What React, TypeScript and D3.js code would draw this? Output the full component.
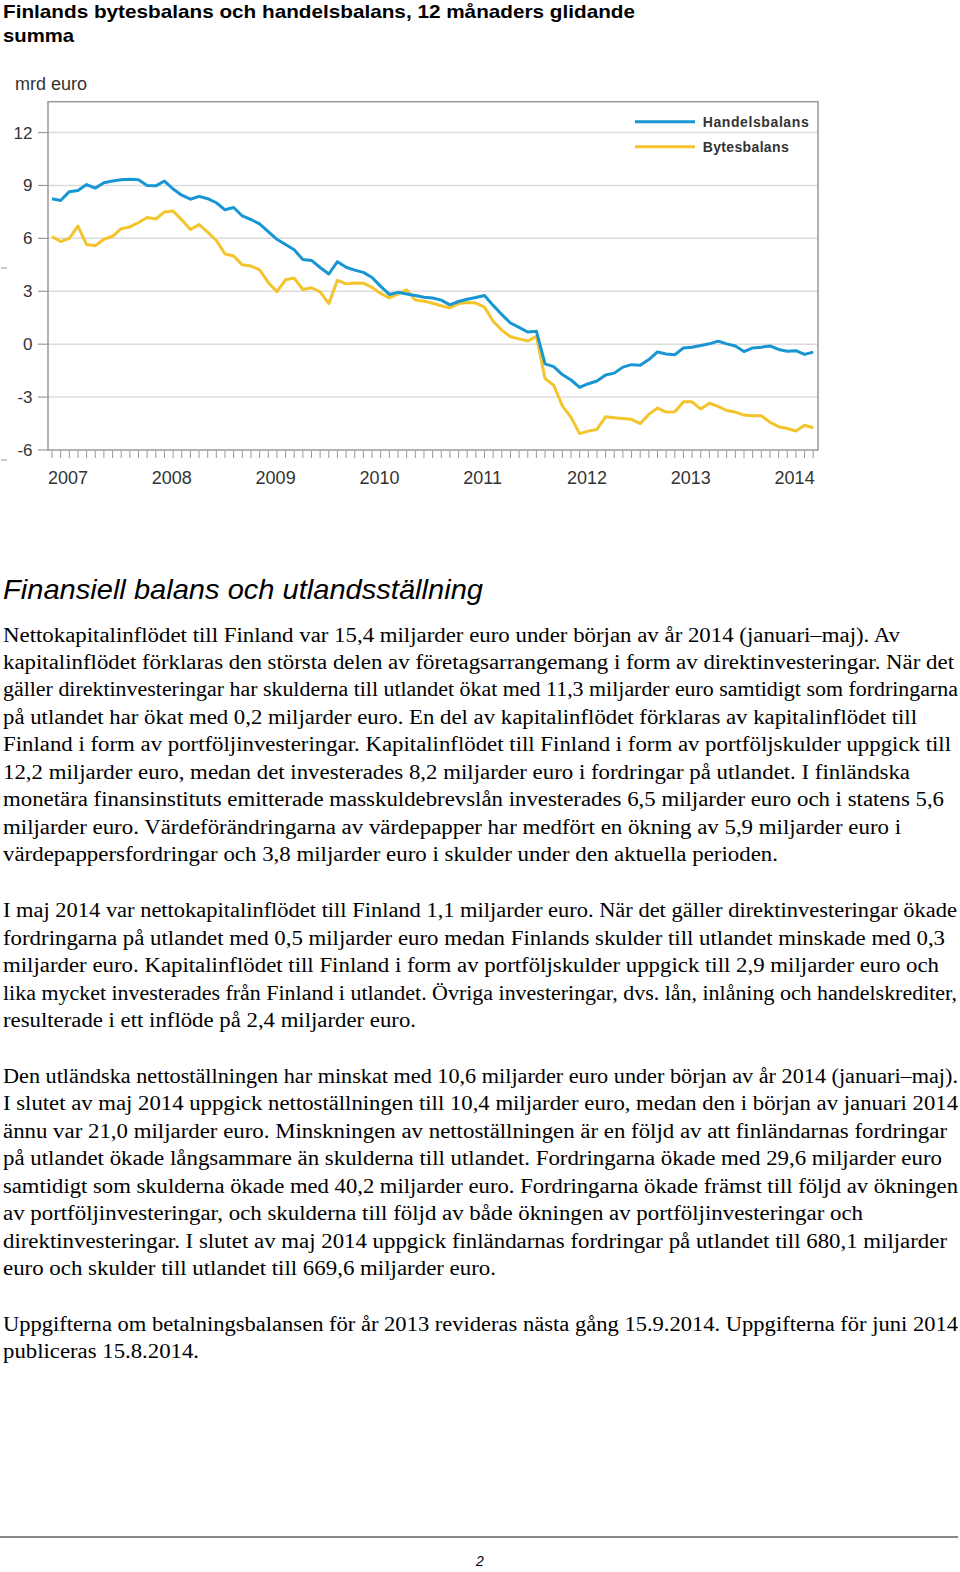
import React from "react";
import * as d3 from "d3";

const handelsbalans = [8.25, 8.15, 8.65, 8.72, 9.05, 8.85, 9.15, 9.25, 9.33, 9.35, 9.32, 9.0, 8.98, 9.25,
  8.8, 8.45, 8.22, 8.38, 8.25, 8.02, 7.62, 7.75, 7.27, 7.07, 6.82, 6.38, 5.95, 5.65, 5.35, 4.8, 4.75,
  4.35, 3.98, 4.68, 4.36, 4.2, 4.07, 3.78, 3.28, 2.82, 2.94, 2.85, 2.76, 2.66, 2.62, 2.5,
  2.23, 2.42, 2.55, 2.65, 2.76, 2.2, 1.68, 1.2, 0.95, 0.69, 0.74, -1.12, -1.27, -1.72, -2.03, -2.45,
  -2.24, -2.09, -1.75, -1.64, -1.3, -1.16, -1.2, -0.87, -0.44, -0.56, -0.6, -0.21, -0.17, -0.07, 0.02,
  0.17, 0.02, -0.1, -0.42, -0.21, -0.17, -0.1, -0.3, -0.4, -0.37, -0.58, -0.45];

const bytesbalans = [6.1, 5.82, 6.0, 6.7, 5.65, 5.58, 5.95, 6.12, 6.55, 6.65, 6.9, 7.18, 7.1, 7.5,
  7.55, 7.05, 6.5, 6.78, 6.35, 5.88, 5.12, 5.0, 4.5, 4.43, 4.22, 3.5, 2.98, 3.65, 3.75, 3.1, 3.2,
  2.97, 2.3, 3.62, 3.42, 3.47, 3.46, 3.22, 2.88, 2.62, 2.85, 3.08, 2.5, 2.44, 2.32, 2.18,
  2.05, 2.3, 2.37, 2.33, 2.1, 1.3, 0.8, 0.42, 0.3, 0.18, 0.45, -1.95, -2.33, -3.5, -4.15, -5.07,
  -4.93, -4.83, -4.12, -4.17, -4.21, -4.26, -4.5, -3.98, -3.62, -3.85, -3.83, -3.27, -3.27, -3.68, -3.35,
  -3.53, -3.76, -3.85, -4.02, -4.06, -4.06, -4.42, -4.68, -4.78, -4.92, -4.6, -4.74];

const years = ["2007", "2008", "2009", "2010", "2011", "2012", "2013", "2014"];
const yTicks = [12, 9, 6, 3, 0, -3, -6];
const seriesNames = ["Handelsbalans", "Bytesbalans"];
const seriesColors = ["#1896d3", "#f4c42c"];

const titleLines = ["Finlands bytesbalans och handelsbalans, 12 månaders glidande", "summa"];
const heading = "Finansiell balans och utlandsställning";

const paragraphs: { lines: string[]; widths: number[] }[] = [
  {
    lines: [
      "Nettokapitalinflödet till Finland var 15,4 miljarder euro under början av år 2014 (januari–maj). Av",
      "kapitalinflödet förklaras den största delen av företagsarrangemang i form av direktinvesteringar. När det",
      "gäller direktinvesteringar har skulderna till utlandet ökat med 11,3 miljarder euro samtidigt som fordringarna",
      "på utlandet har ökat med 0,2 miljarder euro. En del av kapitalinflödet förklaras av kapitalinflödet till",
      "Finland i form av portföljinvesteringar. Kapitalinflödet till Finland i form av portföljskulder uppgick till",
      "12,2 miljarder euro, medan det investerades 8,2 miljarder euro i fordringar på utlandet. I finländska",
      "monetära finansinstituts emitterade masskuldebrevslån investerades 6,5 miljarder euro och i statens 5,6",
      "miljarder euro. Värdeförändringarna av värdepapper har medfört en ökning av 5,9 miljarder euro i",
      "värdepappersfordringar och 3,8 miljarder euro i skulder under den aktuella perioden.",
    ],
    widths: [897, 951, 955, 914, 948, 907, 941, 898, 775],
  },
  {
    lines: [
      "I maj 2014 var nettokapitalinflödet till Finland 1,1 miljarder euro. När det gäller direktinvesteringar ökade",
      "fordringarna på utlandet med 0,5 miljarder euro medan Finlands skulder till utlandet minskade med 0,3",
      "miljarder euro. Kapitalinflödet till Finland i form av portföljskulder uppgick till 2,9 miljarder euro och",
      "lika mycket investerades från Finland i utlandet. Övriga investeringar, dvs. lån, inlåning och handelskrediter,",
      "resulterade i ett inflöde på 2,4 miljarder euro.",
    ],
    widths: [954, 942, 936, 954, 413],
  },
  {
    lines: [
      "Den utländska nettoställningen har minskat med 10,6 miljarder euro under början av år 2014 (januari–maj).",
      "I slutet av maj 2014 uppgick nettoställningen till 10,4 miljarder euro, medan den i början av januari 2014",
      "ännu var 21,0 miljarder euro. Minskningen av nettoställningen är en följd av att finländarnas fordringar",
      "på utlandet ökade långsammare än skulderna till utlandet. Fordringarna ökade med 29,6 miljarder euro",
      "samtidigt som skulderna ökade med 40,2 miljarder euro. Fordringarna ökade främst till följd av ökningen",
      "av portföljinvesteringar, och skulderna till följd av både ökningen av portföljinvesteringar och",
      "direktinvesteringar. I slutet av maj 2014 uppgick finländarnas fordringar på utlandet till 680,1 miljarder",
      "euro och skulder till utlandet till 669,6 miljarder euro.",
    ],
    widths: [955, 955, 944, 939, 955, 860, 944, 493],
  },
  {
    lines: [
      "Uppgifterna om betalningsbalansen för år 2013 revideras nästa gång 15.9.2014. Uppgifterna för juni 2014",
      "publiceras 15.8.2014.",
    ],
    widths: [955, 196],
  },
];
const paraStarts = [641.5, 917.4, 1082.8, 1330.5];
const LINE_H = 27.45;

export default function App() {
  const left = 48, right = 818, top = 101.7, bottom = 450;
  const n = handelsbalans.length;
  const x = d3.scaleLinear().domain([0, n - 1]).range([52, 813.2]);
  const y = d3.scaleLinear().domain([-6, 13.75]).range([bottom, top]);
  const line = d3.line<number>().x((_, i) => x(i)).y((d) => y(d));
  const sans = "'Liberation Sans', Arial, sans-serif";
  const serif = "'Liberation Serif', 'Times New Roman', serif";

  return (
    <svg width={960} height={1572} style={{ position: "absolute", left: 0, top: 0, background: "#fff" }}>
      <rect x={0} y={0} width={960} height={1572} fill="#fff" />
      {/* Title */}
      <text x={3} y={18} fontFamily={sans} fontWeight="bold" fontSize={19} textLength={632} lengthAdjust="spacingAndGlyphs">{titleLines[0]}</text>
      <text x={3} y={42} fontFamily={sans} fontWeight="bold" fontSize={19} textLength={71} lengthAdjust="spacingAndGlyphs">{titleLines[1]}</text>

      {/* Chart */}
      <text x={15} y={90} fontFamily={sans} fontSize={18} fill="#333">mrd euro</text>
      {yTicks.map((t) => (
        <g key={t}>
          {t > -6 && <line x1={left} x2={right} y1={y(t)} y2={y(t)} stroke="#dcdcdc" strokeWidth={1.5} />}
          <line x1={38} x2={left} y1={y(t)} y2={y(t)} stroke="#999" strokeWidth={1.2} />
          <text x={32.5} y={y(t) + 6} textAnchor="end" fontFamily={sans} fontSize={17} fill="#333">{t}</text>
        </g>
      ))}
      <rect x={left} y={top} width={right - left} height={bottom - top} fill="none" stroke="#999" strokeWidth={1.5} />
      {d3.range(n).map((i) => (
        <line key={i} x1={x(i)} x2={x(i)} y1={bottom + 1} y2={bottom + 8} stroke="#999" strokeWidth={1} />
      ))}
      {years.map((yr, k) => (
        <text key={yr} x={x(k * 12) - 4} y={484} fontFamily={sans} fontSize={18} fill="#333">{yr}</text>
      ))}
      <path d={line(bytesbalans) || ""} fill="none" stroke={seriesColors[1]} strokeWidth={3} strokeLinejoin="round" />
      <path d={line(handelsbalans) || ""} fill="none" stroke={seriesColors[0]} strokeWidth={3} strokeLinejoin="round" />
      {/* legend */}
      {seriesNames.map((s, k) => (
        <g key={s}>
          <line x1={635} x2={695} y1={121.7 + k * 25} y2={121.7 + k * 25} stroke={seriesColors[k]} strokeWidth={3} />
          <text x={702.7} y={126.5 + k * 25} fontFamily={sans} fontWeight="bold" fontSize={14} fill="#333"
            textLength={k === 0 ? 106 : 86} lengthAdjust="spacing">{s}</text>
        </g>
      ))}
      <line x1={1} x2={7} y1={268} y2={268} stroke="#999" strokeWidth={1} />
      <line x1={1} x2={7} y1={460} y2={460} stroke="#999" strokeWidth={1} />

      {/* Heading */}
      <text x={3} y={598.5} fontFamily={sans} fontStyle="italic" fontSize={28} textLength={480} lengthAdjust="spacingAndGlyphs">{heading}</text>

      {/* Body */}
      {paragraphs.map((p, pi) =>
        p.lines.map((l, li) => (
          <text key={pi + "-" + li} x={3} y={paraStarts[pi] + li * LINE_H} fontFamily={serif} fontSize={20}
            textLength={p.widths[li]} lengthAdjust="spacingAndGlyphs">{l}</text>
        ))
      )}

      {/* Footer */}
      <line x1={0} x2={958} y1={1537} y2={1537} stroke="#888" strokeWidth={2} />
      <text x={480} y={1566} textAnchor="middle" fontFamily={sans} fontStyle="italic" fontSize={14}>2</text>
    </svg>
  );
}
